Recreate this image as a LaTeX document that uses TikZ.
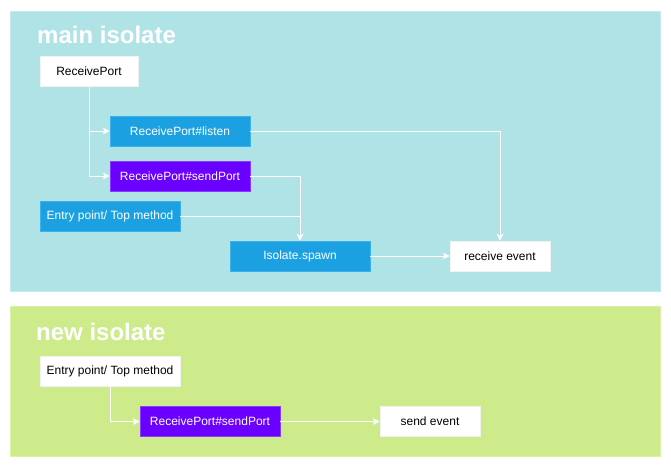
\documentclass[tikz,border=0pt]{standalone}
\usepackage{fontspec}
\setmainfont{Liberation Sans}
\usetikzlibrary{arrows.meta}
\definecolor{mainbg}{HTML}{B0E3E6}
\definecolor{mainbd}{HTML}{C2EBED}
\definecolor{newbg}{HTML}{CDEB8B}
\definecolor{newbd}{HTML}{DBF1A8}
\definecolor{bluebox}{HTML}{1BA1E2}
\definecolor{bluebd}{HTML}{3DB2EA}
\definecolor{purplebox}{HTML}{6A00FF}
\definecolor{purplebd}{HTML}{8A3BFF}
\tikzset{
  x=1pt, y=-1pt,
  panel/.style={line width=0.8pt},
  title/.style={anchor=base west, inner sep=0pt, text=white, font=\fontsize{24}{24}\selectfont\bfseries},
  box/.style={minimum width=#1, minimum height=30pt, inner sep=0pt, line width=0.8pt, font=\fontsize{12}{14}\selectfont},
  whitebox/.style={box=#1, fill=white, draw=white!90!gray, text=black},
  bluebox/.style={box=#1, fill=bluebox, draw=bluebd, text=white},
  purplebox/.style={box=#1, fill=purplebox, draw=purplebd, text=white},
  conn/.style={draw=white, line width=0.9pt},
  arr/.style={conn, -{Stealth[length=7pt,width=7pt,inset=2pt]}},
}
\begin{document}
\begin{tikzpicture}
\useasboundingbox (0,0) rectangle (671,469);
\fill[white] (0,0) rectangle (671,469);
% panels
\draw[panel, fill=mainbg, draw=mainbd] (10,11) rectangle (660,291);
\draw[panel, fill=newbg, draw=newbd] (10,306) rectangle (660,456);
\node[title] (tmain) at (37,43) {main isolate};
\node[title] (tnew) at (36,340) {new isolate};
% main isolate nodes
\node[whitebox=98pt] (rp) at (89,71.5) {ReceivePort};
\node[bluebox=140pt] (listen) at (180,131) {ReceivePort\#listen};
\node[purplebox=140pt] (send) at (180,176) {ReceivePort\#sendPort};
\node[bluebox=140pt] (entry) at (110,216) {Entry point/ Top method};
\node[bluebox=140pt] (spawn) at (300,256) {Isolate.spawn};
\node[whitebox=100pt] (recv) at (500,256) {receive event};
% new isolate nodes
\node[whitebox=140pt] (entry2) at (110,371.5) {Entry point/ Top method};
\node[purplebox=140pt] (send2) at (210,421.5) {ReceivePort\#sendPort};
\node[whitebox=100pt] (sendev) at (430,421.5) {send event};
% connectors
\draw[arr] (rp.south) |- (listen.west);
\draw[arr] (rp.south) |- (send.west);
\draw[arr] (listen.east) -| (recv.north);
\draw[arr] (send.east) -| (spawn.north);
\draw[conn] (entry.east) -- (entry.east -| spawn.north);
\draw[arr] (spawn.east) -- (recv.west);
\draw[arr] (entry2.south) |- (send2.west);
\draw[arr] (send2.east) -- (sendev.west);
\end{tikzpicture}
\end{document}
